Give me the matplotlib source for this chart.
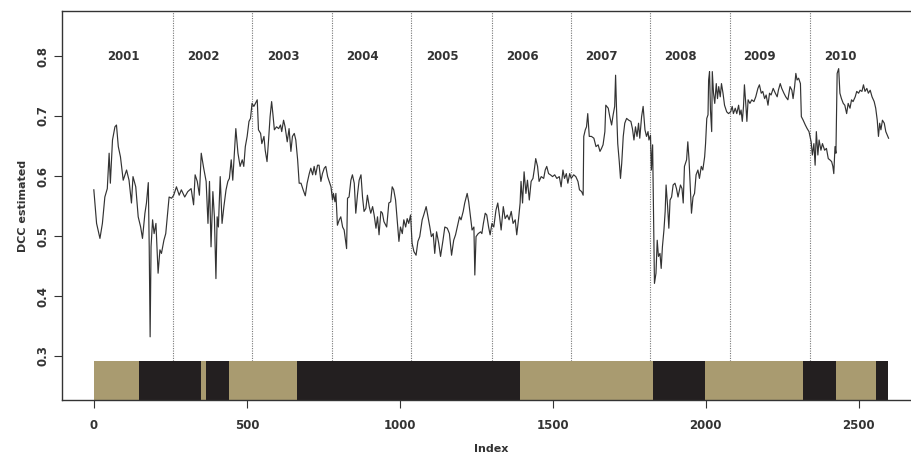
import matplotlib
matplotlib.use("Agg")
import matplotlib.pyplot as plt

# ---- data ----
idx = [0, 9, 20, 28, 36, 44, 50, 54, 61, 69, 74, 80, 87, 96, 107, 115, 123, 128, 137, 145,
       153, 159, 167, 172, 178, 181, 184, 187, 192, 197, 203, 210, 216, 221, 229, 235, 241, 246, 254, 261,
       270, 279, 286, 297, 307, 318, 326, 331, 338, 345, 351, 359, 367, 373, 378, 383, 389, 394, 399, 403,
       407, 413, 419, 425, 432, 438, 443, 449, 454, 460, 464, 471, 478, 485, 490, 495, 501, 507, 512, 517,
       523, 528, 534, 538, 545, 549, 556, 560, 566, 571, 576, 581, 585, 590, 597, 604, 610, 614, 620, 625,
       632, 638, 644, 649, 655, 660, 666, 671, 677, 684, 691, 697, 704, 709, 715, 720, 725, 731, 736, 742,
       747, 753, 758, 764, 769, 775, 780, 783, 788, 791, 796, 802, 807, 813, 818, 826, 829, 834, 840, 845,
       851, 856, 862, 867, 873, 878, 883, 889, 894, 900, 905, 911, 916, 922, 927, 932, 938, 943, 948, 957,
       964, 970, 975, 980, 986, 991, 997, 1002, 1008, 1013, 1019, 1024, 1029, 1035, 1040, 1046, 1053, 1059, 1065, 1073,
       1078, 1086, 1092, 1098, 1103, 1109, 1114, 1120, 1127, 1133, 1141, 1147, 1155, 1162, 1169, 1176, 1182, 1190, 1195, 1200,
       1207, 1212, 1220, 1225, 1231, 1236, 1242, 1245, 1249, 1256, 1264, 1268, 1273, 1279, 1284, 1290, 1295, 1301, 1307, 1314,
       1320, 1326, 1331, 1338, 1344, 1351, 1357, 1364, 1370, 1377, 1382, 1388, 1393, 1396, 1401, 1406, 1412, 1417, 1423, 1429,
       1435, 1440, 1444, 1450, 1455, 1462, 1470, 1475, 1480, 1486, 1492, 1499, 1506, 1513, 1521, 1527, 1533, 1538, 1544, 1549,
       1555, 1560, 1568, 1575, 1582, 1587, 1594, 1599, 1601, 1606, 1610, 1614, 1619, 1626, 1634, 1641, 1648, 1654, 1659, 1664,
       1670, 1673, 1681, 1686, 1692, 1697, 1702, 1705, 1708, 1712, 1717, 1721, 1725, 1730, 1735, 1741, 1748, 1755, 1760, 1765,
       1770, 1775, 1780, 1784, 1790, 1795, 1801, 1806, 1811, 1814, 1819, 1822, 1826, 1829, 1832, 1837, 1841, 1845, 1850, 1854,
       1858, 1863, 1867, 1870, 1875, 1879, 1883, 1888, 1893, 1899, 1904, 1909, 1917, 1922, 1926, 1930, 1937, 1941, 1945, 1950,
       1953, 1958, 1963, 1968, 1974, 1979, 1985, 1990, 1996, 1999, 2003, 2007, 2009, 2012, 2015, 2019, 2021, 2025, 2029, 2034,
       2038, 2042, 2047, 2051, 2056, 2061, 2068, 2074, 2081, 2086, 2090, 2096, 2101, 2107, 2111, 2115, 2119, 2123, 2126, 2131,
       2134, 2138, 2144, 2150, 2157, 2163, 2170, 2175, 2181, 2186, 2192, 2197, 2203, 2208, 2213, 2220, 2227, 2233, 2237, 2243,
       2248, 2255, 2261, 2268, 2275, 2281, 2285, 2290, 2294, 2298, 2303, 2309, 2312, 2318, 2325, 2331, 2337, 2344, 2348, 2353,
       2357, 2361, 2366, 2370, 2376, 2381, 2388, 2394, 2400, 2405, 2411, 2415, 2418, 2422, 2425, 2429, 2434, 2438, 2443, 2449,
       2454, 2460, 2465, 2471, 2476, 2481, 2488, 2493, 2499, 2504, 2510, 2515, 2520, 2526, 2531, 2537, 2543, 2550, 2555, 2560,
       2564, 2568, 2572, 2577, 2583, 2588, 2597]

dcc = [0.577, 0.521, 0.496, 0.521, 0.565, 0.579, 0.638, 0.588, 0.660, 0.682, 0.685, 0.649, 0.632, 0.593, 0.610, 0.593, 0.555, 0.599, 0.582, 0.532,
       0.515, 0.496, 0.538, 0.555, 0.589, 0.482, 0.332, 0.482, 0.527, 0.504, 0.521, 0.438, 0.477, 0.471, 0.493, 0.504, 0.538, 0.565, 0.563, 0.568,
       0.582, 0.568, 0.577, 0.565, 0.574, 0.579, 0.552, 0.602, 0.591, 0.568, 0.638, 0.613, 0.591, 0.521, 0.591, 0.482, 0.574, 0.532, 0.429, 0.532,
       0.515, 0.599, 0.521, 0.549, 0.577, 0.591, 0.596, 0.627, 0.593, 0.643, 0.679, 0.638, 0.616, 0.627, 0.616, 0.649, 0.666, 0.691, 0.696, 0.721,
       0.716, 0.721, 0.727, 0.677, 0.671, 0.654, 0.666, 0.643, 0.624, 0.660, 0.699, 0.724, 0.704, 0.677, 0.682, 0.679, 0.685, 0.674, 0.693, 0.682,
       0.657, 0.679, 0.641, 0.666, 0.671, 0.660, 0.627, 0.588, 0.588, 0.577, 0.567, 0.588, 0.604, 0.613, 0.602, 0.616, 0.602, 0.618, 0.618, 0.591,
       0.604, 0.613, 0.616, 0.599, 0.591, 0.582, 0.560, 0.571, 0.557, 0.571, 0.518, 0.527, 0.532, 0.515, 0.510, 0.479, 0.563, 0.565, 0.593, 0.602,
       0.588, 0.538, 0.571, 0.593, 0.602, 0.565, 0.541, 0.546, 0.568, 0.549, 0.538, 0.549, 0.535, 0.513, 0.532, 0.502, 0.541, 0.538, 0.524, 0.515,
       0.555, 0.557, 0.582, 0.577, 0.560, 0.529, 0.491, 0.515, 0.504, 0.527, 0.515, 0.529, 0.521, 0.535, 0.488, 0.474, 0.468, 0.491, 0.499, 0.527,
       0.535, 0.549, 0.532, 0.515, 0.499, 0.504, 0.471, 0.507, 0.488, 0.466, 0.493, 0.515, 0.513, 0.504, 0.468, 0.493, 0.502, 0.521, 0.532, 0.527,
       0.541, 0.555, 0.571, 0.557, 0.532, 0.510, 0.515, 0.435, 0.499, 0.504, 0.507, 0.504, 0.521, 0.538, 0.535, 0.515, 0.502, 0.521, 0.515, 0.543,
       0.555, 0.532, 0.510, 0.549, 0.529, 0.535, 0.527, 0.541, 0.521, 0.527, 0.502, 0.529, 0.555, 0.591, 0.555, 0.607, 0.571, 0.593, 0.560, 0.591,
       0.596, 0.613, 0.629, 0.616, 0.591, 0.599, 0.596, 0.610, 0.616, 0.604, 0.602, 0.599, 0.602, 0.596, 0.599, 0.582, 0.610, 0.596, 0.604, 0.588,
       0.604, 0.596, 0.602, 0.599, 0.591, 0.577, 0.574, 0.568, 0.666, 0.677, 0.682, 0.704, 0.666, 0.666, 0.663, 0.649, 0.652, 0.641, 0.646, 0.652,
       0.674, 0.718, 0.713, 0.699, 0.685, 0.702, 0.716, 0.768, 0.713, 0.654, 0.624, 0.596, 0.621, 0.666, 0.688, 0.696, 0.693, 0.691, 0.679, 0.660,
       0.682, 0.666, 0.688, 0.663, 0.699, 0.716, 0.677, 0.666, 0.674, 0.660, 0.668, 0.610, 0.652, 0.543, 0.421, 0.438, 0.493, 0.466, 0.471, 0.446,
       0.482, 0.510, 0.541, 0.585, 0.549, 0.513, 0.560, 0.565, 0.585, 0.588, 0.579, 0.565, 0.585, 0.579, 0.555, 0.616, 0.627, 0.657, 0.627, 0.571,
       0.538, 0.565, 0.571, 0.602, 0.610, 0.596, 0.616, 0.610, 0.632, 0.654, 0.696, 0.702, 0.760, 0.774, 0.710, 0.674, 0.774, 0.738, 0.721, 0.754,
       0.729, 0.749, 0.732, 0.754, 0.738, 0.718, 0.707, 0.704, 0.707, 0.716, 0.704, 0.713, 0.704, 0.718, 0.702, 0.710, 0.691, 0.716, 0.752, 0.716,
       0.691, 0.727, 0.721, 0.727, 0.724, 0.732, 0.746, 0.752, 0.738, 0.741, 0.729, 0.735, 0.718, 0.738, 0.735, 0.746, 0.738, 0.732, 0.743, 0.754,
       0.746, 0.738, 0.732, 0.727, 0.749, 0.743, 0.729, 0.749, 0.771, 0.760, 0.763, 0.754, 0.699, 0.693, 0.685, 0.679, 0.674, 0.657, 0.635, 0.654,
       0.618, 0.674, 0.635, 0.660, 0.643, 0.654, 0.643, 0.646, 0.629, 0.627, 0.624, 0.616, 0.604, 0.649, 0.638, 0.771, 0.779, 0.738, 0.729, 0.721,
       0.718, 0.704, 0.721, 0.713, 0.727, 0.724, 0.732, 0.741, 0.738, 0.743, 0.741, 0.752, 0.741, 0.746, 0.738, 0.743, 0.732, 0.724, 0.713, 0.693,
       0.666, 0.688, 0.677, 0.693, 0.688, 0.674, 0.663]

year_breaks = [259, 518, 777, 1038, 1300, 1560, 1817, 2078, 2340]
year_labels = ["2001", "2002", "2003", "2004", "2005", "2006", "2007", "2008", "2009", "2010"]
year_label_pos = [98, 359, 618, 879, 1140, 1399, 1659, 1917, 2176, 2438]

regime_start = [0, 147, 350, 366, 442, 663, 1392, 1826, 1996, 2316, 2426, 2557]
regime_end = [147, 350, 366, 442, 663, 1392, 1826, 1996, 2316, 2426, 2557, 2594]
regime_state = [1, 2, 1, 2, 1, 2, 1, 2, 1, 2, 1, 2]

x_ticks = [0, 500, 1000, 1500, 2000, 2500]
y_ticks = [0.3, 0.4, 0.5, 0.6, 0.7, 0.8]

# ---- styling ----
state_colors = {1: "#A99B70", 2: "#231F20"}
plt.rcParams["font.family"] = ["DejaVu Sans"]

fig = plt.figure(figsize=(9.12, 4.57), dpi=100)
ax = fig.add_axes([62 / 912, 1 - 400 / 457, (921 - 62) / 912, (400 - 11) / 457])
ymin, ymax = 0.2267, 0.875
ax.set_xlim(-104, 2703)
ax.set_ylim(ymin, ymax)

bar_top = 0.291
for s, e, st in zip(regime_start, regime_end, regime_state):
    ax.bar(s, bar_top - ymin, width=e - s, bottom=ymin, align="edge",
           color=state_colors[st], linewidth=0, zorder=2)

for b in year_breaks:
    ax.axvline(b, color="#777777", linestyle=(0, (1, 1.2)), linewidth=0.8, zorder=1)

for lab, pos in zip(year_labels, year_label_pos):
    ax.text(pos, 0.8, lab, ha="center", va="center", fontsize=8.5,
            fontweight="bold", color="#333333", zorder=3)

ax.plot(idx, dcc, color="#333333", linewidth=0.85, zorder=3)

ax.set_xticks(x_ticks)
ax.set_xticklabels([str(t) for t in x_ticks], fontsize=8.5, fontweight="bold", color="#333333")
ax.set_yticks(y_ticks)
ax.set_yticklabels([f"{t:.1f}" for t in y_ticks], fontsize=8.5, fontweight="bold",
                   color="#333333", rotation=90, va="center")
ax.tick_params(axis="both", direction="out", length=6, width=0.8, color="#333333")
ax.tick_params(axis="x", pad=8)
ax.tick_params(axis="y", pad=3)

for sp in ax.spines.values():
    sp.set_linewidth(1.0)
    sp.set_color("#333333")

ax.set_xlabel("Index", fontsize=8, fontweight="bold", color="#333333", labelpad=8)
ax.set_ylabel("DCC estimated", fontsize=8, fontweight="bold", color="#333333", labelpad=6)

fig.savefig("out.png", dpi=100)
